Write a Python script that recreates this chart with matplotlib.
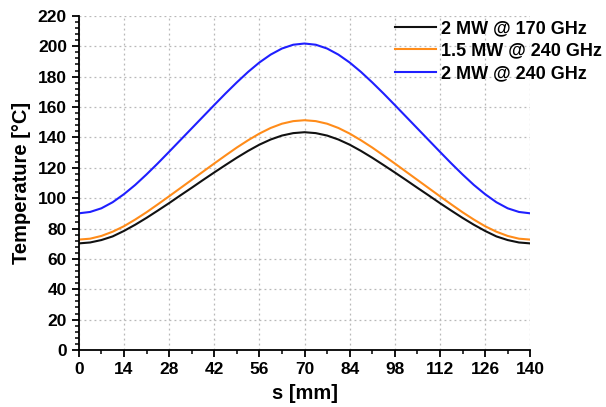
import matplotlib
matplotlib.use("Agg")
import matplotlib.pyplot as plt
from matplotlib.ticker import MultipleLocator

# position along s [mm], one point every 3.5 mm
s_mm = [0, 3.5, 7, 10.5, 14, 17.5, 21, 24.5, 28, 31.5, 35, 38.5, 42, 45.5, 49, 52.5, 56, 59.5, 63, 66.5,
        70, 73.5, 77, 80.5, 84, 87.5, 91, 94.5, 98, 101.5, 105, 108.5, 112, 115.5, 119, 122.5, 126, 129.5,
        133, 136.5, 140]

temp_2MW_170 = [70.2, 70.8, 72.4, 74.8, 78.4, 82.5, 87.0, 91.8, 96.7, 101.8, 106.8, 111.9, 116.9, 121.8,
                126.6, 131.1, 135.2, 138.6, 141.2, 142.8, 143.4, 142.8, 141.2, 138.6, 135.2, 131.1, 126.6,
                121.8, 116.9, 111.9, 106.8, 101.8, 96.7, 91.8, 87.0, 82.5, 78.4, 74.8, 72.4, 70.8, 70.2]

temp_15MW_240 = [72.7, 73.3, 75.1, 77.9, 81.5, 85.9, 90.7, 95.9, 101.2, 106.6, 112.0, 117.4, 122.8, 128.1,
                 133.3, 138.1, 142.5, 146.2, 149.0, 150.7, 151.3, 150.7, 149.0, 146.2, 142.5, 138.1, 133.3,
                 128.1, 122.8, 117.4, 112.0, 106.6, 101.2, 95.9, 90.7, 85.9, 81.5, 77.9, 75.1, 73.3, 72.7]

temp_2MW_240 = [90.0, 90.9, 93.3, 97.3, 102.6, 108.7, 115.6, 122.9, 130.5, 138.2, 145.9, 153.6, 161.3, 168.9,
                176.2, 183.1, 189.3, 194.5, 198.5, 201.0, 201.8, 201.0, 198.5, 194.5, 189.3, 183.1, 176.2,
                168.9, 161.3, 153.6, 145.9, 138.2, 130.5, 122.9, 115.6, 108.7, 102.6, 97.3, 93.3, 90.9, 90.0]

labels = ["2 MW @ 170 GHz", "1.5 MW @ 240 GHz", "2 MW @ 240 GHz"]
x_ticks = [0, 14, 28, 42, 56, 70, 84, 98, 112, 126, 140]

plt.rcParams['font.family'] = ['Liberation Sans', 'DejaVu Sans']
plt.rcParams['font.weight'] = 'bold'

fig = plt.figure(figsize=(6.06, 4.07), dpi=100)
ax = fig.add_axes([0.130, 0.140, 0.745, 0.821])

ax.plot(s_mm, temp_2MW_170, color="#111111", lw=1.5, label=labels[0])
ax.plot(s_mm, temp_15MW_240, color="#ff8c1a", lw=1.5, label=labels[1])
ax.plot(s_mm, temp_2MW_240, color="#1f1fff", lw=1.5, label=labels[2])

ax.set_xlim(0, 140)
ax.set_ylim(0, 220)
ax.set_xticks(x_ticks)
ax.xaxis.set_minor_locator(MultipleLocator(7))
ax.yaxis.set_major_locator(MultipleLocator(20))
ax.yaxis.set_minor_locator(MultipleLocator(4))

for side in ["top", "right"]:
  ax.spines[side].set_visible(False)
for side in ["left", "bottom"]:
  ax.spines[side].set_linewidth(1.3)

ax.tick_params(which="major", direction="out", length=5, width=1.3, labelsize=12.5)
ax.tick_params(which="minor", direction="out", length=3, width=1.1)
for lab in ax.get_xticklabels() + ax.get_yticklabels():
  lab.set_fontweight("bold")

ax.grid(True, which="major", linestyle=(0, (1.5, 2.5)), color="#b8b8b8", lw=0.9)
ax.set_axisbelow(True)

ax.set_xlabel("s [mm]", fontsize=14.5, fontweight="bold", labelpad=5)
ax.set_ylabel("Temperature [°C]", fontsize=14.5, fontweight="bold", labelpad=5)

leg = fig.legend(loc="upper left", bbox_to_anchor=(0.640, 0.968), frameon=False,
                 prop={"size": 13, "weight": "bold"}, handlelength=2.27, handletextpad=0.28,
                 labelspacing=0.3, borderaxespad=0)

fig.savefig("out.png", dpi=100)
